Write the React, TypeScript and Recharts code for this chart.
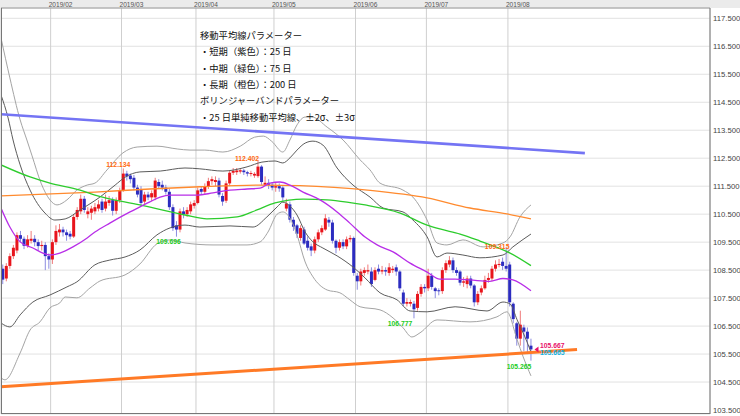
import React from 'react';
import {
  ComposedChart,
  Bar,
  Line,
  XAxis,
  YAxis,
  CartesianGrid,
  ReferenceLine,
  ReferenceDot,
} from 'recharts';

// daily candles from 2019/01/14, [open, high, low, close]
const candles: [number, number, number, number][] = [
  [108.55, 108.7, 108.0, 108.16], [108.2, 108.75, 108.1, 108.65], [108.65, 109.1, 108.55, 109.0],
  [109.0, 109.4, 108.9, 109.3], [109.2, 109.85, 109.1, 109.75], [109.75, 109.9, 109.5, 109.62],
  [109.62, 109.7, 109.25, 109.37], [109.37, 109.75, 109.3, 109.6], [109.55, 109.9, 109.45, 109.62],
  [109.62, 109.75, 109.35, 109.5], [109.5, 109.6, 109.2, 109.36], [109.36, 109.55, 109.2, 109.4],
  [109.4, 109.5, 108.5, 109.0], [109.0, 109.1, 108.55, 108.88], [108.88, 109.6, 108.72, 109.5],
  [109.5, 110.1, 109.4, 109.9], [109.85, 110.15, 109.7, 109.95], [109.95, 110.05, 109.7, 109.85],
  [109.85, 109.95, 109.55, 109.75], [109.8, 109.9, 109.6, 109.7], [109.7, 110.5, 109.65, 110.4],
  [110.4, 110.75, 110.3, 110.65], [110.6, 111.2, 110.5, 111.05], [111.05, 111.15, 110.55, 110.65],
  [110.5, 110.75, 110.35, 110.6], [110.55, 110.8, 110.3, 110.7], [110.6, 110.9, 110.5, 110.75],
  [110.7, 111.0, 110.6, 110.85], [110.95, 111.05, 110.55, 110.65], [110.7, 111.2, 110.6, 110.95],
  [110.9, 111.15, 110.8, 111.0], [111.0, 111.1, 110.45, 110.62], [110.62, 111.1, 110.5, 111.0],
  [111.0, 111.45, 110.9, 111.35], [111.35, 112.134, 111.3, 111.95], [111.95, 112.05, 111.7, 111.85],
  [111.88, 111.95, 111.6, 111.75], [111.8, 111.9, 111.35, 111.45], [111.45, 111.55, 111.1, 111.2],
  [111.4, 111.5, 110.8, 110.9], [110.95, 111.3, 110.85, 111.2], [111.2, 111.3, 111.0, 111.1],
  [111.1, 111.35, 110.95, 111.25], [111.1, 111.8, 111.0, 111.7], [111.65, 111.75, 111.4, 111.5],
  [111.55, 111.7, 111.35, 111.45], [111.45, 111.55, 111.2, 111.3], [111.3, 111.4, 110.65, 110.75],
  [110.75, 110.85, 109.9, 110.0], [110.1, 110.25, 109.696, 109.95], [109.95, 110.7, 109.85, 110.6],
  [110.6, 110.75, 110.35, 110.5], [110.5, 110.75, 110.4, 110.65], [110.6, 110.95, 110.5, 110.85],
  [110.8, 111.0, 110.7, 110.9], [110.9, 111.45, 110.85, 111.35], [111.4, 111.5, 111.2, 111.3],
  [111.3, 111.6, 111.2, 111.5], [111.5, 111.8, 111.4, 111.68], [111.68, 111.85, 111.55, 111.75],
  [111.65, 111.85, 111.5, 111.72], [111.7, 111.8, 111.1, 111.2], [111.15, 111.25, 110.8, 110.95],
  [110.98, 111.7, 110.9, 111.6], [111.6, 112.05, 111.5, 111.98], [111.98, 112.15, 111.9, 112.05],
  [112.0, 112.15, 111.9, 112.06], [112.02, 112.15, 111.95, 112.07], [112.06, 112.12, 111.9, 112.0],
  [112.0, 112.05, 111.85, 111.95], [111.94, 112.05, 111.85, 111.97], [111.88, 112.0, 111.8, 111.94],
  [111.86, 112.402, 111.8, 112.2], [112.2, 112.25, 111.55, 111.65], [111.55, 111.85, 111.5, 111.62],
  [111.62, 111.75, 111.4, 111.55], [111.55, 111.65, 111.35, 111.45], [111.45, 111.65, 111.3, 111.5],
  [111.5, 111.6, 111.3, 111.42], [111.45, 111.5, 110.95, 111.1], [110.7, 111.05, 110.6, 110.88],
  [110.85, 110.95, 110.2, 110.3], [110.3, 110.4, 109.9, 110.05], [110.1, 110.15, 109.65, 109.8],
  [109.65, 110.1, 109.55, 110.0], [109.95, 110.05, 109.4, 109.45], [109.55, 109.7, 109.2, 109.3],
  [109.35, 109.45, 109.0, 109.2], [109.2, 109.7, 109.1, 109.6], [109.6, 109.95, 109.5, 109.85],
  [109.85, 110.1, 109.75, 110.0], [109.95, 110.5, 109.9, 110.35], [110.3, 110.4, 110.05, 110.2],
  [110.2, 110.3, 109.45, 109.55], [109.55, 109.6, 109.1, 109.3], [109.3, 109.6, 109.2, 109.5],
  [109.5, 109.6, 109.25, 109.35], [109.35, 109.7, 109.25, 109.6], [109.6, 109.75, 109.5, 109.65],
  [109.65, 109.7, 108.3, 108.4], [108.3, 108.4, 107.8, 108.1], [108.1, 108.55, 107.95, 108.45],
  [108.4, 108.6, 108.3, 108.5], [108.45, 108.7, 108.35, 108.5], [108.45, 108.6, 107.9, 108.0],
  [108.15, 108.6, 108.1, 108.5], [108.55, 108.7, 108.35, 108.45], [108.45, 108.65, 108.35, 108.5],
  [108.5, 108.6, 108.3, 108.45], [108.4, 108.75, 108.3, 108.6], [108.5, 108.65, 108.4, 108.55],
  [108.6, 108.7, 108.3, 108.45], [108.45, 108.5, 107.75, 107.85], [107.7, 107.8, 107.2, 107.3],
  [107.3, 107.5, 107.2, 107.36], [107.3, 107.45, 107.2, 107.36], [107.3, 107.4, 106.777, 107.1],
  [107.15, 107.75, 107.05, 107.65], [107.65, 108.0, 107.55, 107.9], [107.9, 108.0, 107.7, 107.85],
  [107.85, 108.55, 107.75, 108.3], [108.3, 108.4, 107.8, 107.9], [107.85, 107.9, 107.5, 107.75],
  [107.78, 107.85, 107.6, 107.75], [107.75, 108.6, 107.65, 108.5], [108.5, 108.85, 108.4, 108.75],
  [108.7, 109.0, 108.6, 108.85], [108.85, 108.95, 108.4, 108.5], [108.5, 108.6, 108.3, 108.4],
  [108.45, 108.5, 107.95, 108.05], [108.05, 108.25, 107.9, 108.1], [108.0, 108.3, 107.85, 108.2],
  [108.2, 108.3, 107.85, 107.95], [107.95, 108.0, 107.2, 107.35], [107.35, 107.75, 107.25, 107.65],
  [107.7, 107.95, 107.6, 107.85], [107.85, 108.3, 107.8, 108.15], [108.15, 108.4, 108.05, 108.22],
  [108.2, 108.65, 108.1, 108.55], [108.55, 108.85, 108.45, 108.7], [108.7, 108.9, 108.6, 108.72],
  [108.8, 108.95, 108.5, 108.65], [108.65, 109.315, 108.45, 108.55], [108.7, 108.8, 107.2, 107.35],
  [107.3, 107.35, 106.6, 106.75], [106.6, 106.65, 105.8, 106.05], [106.05, 107.05, 105.8, 106.55],
  [106.45, 106.55, 105.6, 106.3], [106.3, 106.45, 105.5, 106.05], [105.8, 106.05, 105.265, 105.667],
];

// [day position, value]
const ma25: [number, number][] = [
  [0, 110.72], [2.5, 110.04], [5.4, 109.51], [9, 109.29], [11.8, 109.11], [13.8, 109.04],
  [16.6, 109.11], [20.3, 109.33], [24.3, 109.65], [26.5, 109.86], [30.7, 110.18], [36.4, 110.58],
  [39.2, 110.76], [42, 110.94], [44.9, 111.11], [47.7, 111.18], [51.9, 111.18], [55.3, 111.18],
  [59.8, 111.26], [64.6, 111.36], [69.4, 111.4], [73.1, 111.43], [75.9, 111.61], [78.7, 111.65],
  [81.5, 111.54], [85.2, 111.29], [90, 111.01], [94.8, 110.58], [98.4, 110.18], [102.7, 109.68],
  [106.1, 109.4], [110.6, 109.15], [115.4, 108.75], [120.2, 108.43], [123.8, 108.18],
  [128.1, 108.18], [132.3, 108.15], [137.9, 108.1], [141.6, 108.2], [144.4, 108.15], [149.5, 107.76],
];
const ma75: [number, number][] = [
  [0, 112.26], [8.2, 111.83], [13.8, 111.61], [22.3, 111.36], [26.5, 111.18], [39.2, 110.83],
  [51.9, 110.47], [58.1, 110.33], [66.6, 110.4], [72.2, 110.65], [77.3, 110.9], [85.2, 111.04],
  [92, 111.01], [97.6, 110.93], [102.7, 110.83], [112.6, 110.54], [120.2, 110.11], [123.8, 109.97],
  [129.5, 109.79], [135.1, 109.54], [143.6, 109.11], [149.5, 108.66],
];
const ma200: [number, number][] = [
  [0, 111.15], [26.5, 111.29], [42, 111.4], [56.1, 111.48], [73.1, 111.54], [84.3, 111.52],
  [104.1, 111.35], [120.2, 111.08], [132.3, 110.72], [142.7, 110.51], [149.5, 110.33],
];
const bbUp3: [number, number][] = [
  [0, 116.8], [2.5, 115.37], [5.4, 113.87], [7.3, 113.15], [8.7, 112.61], [11.3, 111.61],
  [13.8, 111.01], [15.8, 110.83], [18.6, 111.01], [21.4, 111.36], [24.3, 111.54], [26.5, 111.61],
  [29.9, 112.08], [34.4, 112.69], [38.4, 112.9], [44, 112.93], [49.7, 112.83], [53.3, 112.79],
  [57.5, 112.79], [62.6, 112.72], [67.5, 112.93], [71.5, 113.25], [74, 113.29], [76.4, 113.1],
  [79.5, 112.72], [81.5, 113.15], [83.5, 113.69], [85.8, 113.97], [87.7, 113.97], [92, 113.61],
  [96.5, 113.15], [101.3, 112.44], [104.1, 112.08], [106.9, 111.61], [113.4, 111.36],
  [116.2, 111.11], [120.2, 110.29], [123, 109.47], [125.8, 109.4], [130.3, 109.58], [136, 109.33],
  [141.6, 109.47], [143.6, 109.69], [146.4, 110.4], [149.5, 110.83],
];
const bbUp2: [number, number][] = [
  [0, 114.76], [2, 113.94], [3.4, 113.15], [5.4, 112.26], [8.2, 111.36], [12.4, 110.54],
  [15.2, 110.29], [18.1, 110.33], [22.3, 110.65], [27.9, 111.11], [32.2, 111.54], [35, 111.82],
  [39.2, 112.01], [44.9, 112.04], [51.9, 112.15], [56.1, 112.12], [62.6, 112.04], [69.4, 112.19],
  [73.6, 112.36], [77.3, 112.4], [79.5, 112.33], [81.5, 112.51], [83.5, 112.79], [85.8, 113.04],
  [88, 113.11], [90.8, 112.97], [94.8, 112.15], [99.3, 111.54], [104.1, 111.11], [107.8, 110.72],
  [113.4, 110.58], [116.2, 110.29], [120.2, 109.69], [123, 108.97], [125.8, 109.11],
  [130.3, 109.04], [135.1, 108.94], [141.6, 109.04], [144.4, 109.33], [149.5, 109.79],
];
const bbLow2: [number, number][] = [
  [0, 106.61], [2.5, 106.47], [5.4, 106.9], [9, 107.36], [13.8, 107.61], [18.6, 107.9],
  [21.4, 108.08], [26.5, 108.69], [30.7, 108.86], [35, 108.97], [39.2, 109.22], [44, 109.76],
  [47.7, 110.01], [51.9, 110.11], [56.1, 110.04], [64.6, 110.08], [71.1, 110.04], [75, 110.4],
  [77.9, 110.76], [79.5, 110.93], [81.5, 110.79], [83.5, 110.47], [85.8, 109.86], [88, 109.51],
  [90.8, 109.29], [94.8, 109.01], [99.3, 108.61], [102.7, 108.22], [106.9, 107.69],
  [111.7, 107.44], [115.4, 107.04], [120.2, 107.01], [128.1, 107.19], [137.1, 107.04],
  [141.6, 107.36], [143.6, 107.29], [145.6, 106.72], [148.4, 105.93], [149.5, 105.57],
];
const bbLow3: [number, number][] = [
  [0, 104.65], [1.1, 104.58], [5.4, 105.54], [8.2, 106.36], [11, 106.65], [13.8, 107.15],
  [16.6, 107.33], [18.1, 107.54], [21.4, 107.51], [25.1, 107.86], [27.9, 108.11], [35, 108.33],
  [39.2, 108.72], [44, 109.44], [47.7, 109.58], [51.9, 109.47], [59.8, 109.4], [69.4, 109.4],
  [73.1, 109.51], [75.3, 109.86], [77.9, 110.5], [79.5, 110.58], [81.5, 110.36], [83.5, 109.76],
  [85.8, 108.79], [88, 108.26], [92, 107.79], [95.6, 107.69], [98.4, 107.44], [101.3, 107.19],
  [106.9, 107.08], [110.6, 106.79], [113.4, 106.44], [115.9, 106.11], [118.2, 106.26],
  [123, 106.72], [132.3, 106.65], [139.9, 106.83], [142.7, 107.01], [145.6, 106.01],
  [147.3, 105.4], [149.5, 104.72],
];

// trend lines: [start pos, start value, end pos, end value]
const resistance = [0, 114.07, 164.7, 112.68];
const support = [0, 104.33, 162.5, 105.66];

const monthTicks = [14, 34, 55, 77, 100, 120, 143];
const monthLabels = ['2019/02', '2019/03', '2019/04', '2019/05', '2019/06', '2019/07', '2019/08'];
const priceTicks = [
  103.5, 104, 104.5, 105, 105.5, 106, 106.5, 107, 107.5, 108, 108.5, 109, 109.5, 110, 110.5,
  111, 111.5, 112, 112.5, 113, 113.5, 114, 114.5, 115, 115.5, 116, 116.5, 117, 117.5,
];
const quote = [105.667, 105.665];

const notes = [
  '移動平均線パラメーター',
  '・短期（紫色）：25 日',
  '・中期（緑色）：75 日',
  '・長期（橙色）：200 日',
  'ボリンジャーバンドパラメーター',
  '・25 日単純移動平均線、±2σ、±3σ',
];

const candleData = candles.map((c, i) => ({ u: i + 0.5, range: [c[2], c[1]], o: c[0], c: c[3] }));
const pts = (arr: [number, number][]) => arr.map(([u, v]) => ({ u, v }));

function Candle(props: any) {
  const { x, y, width, height, payload } = props;
  if (!payload) return null;
  const [low, high] = payload.range;
  const top = Math.min(y, y + height);
  const h = Math.abs(height);
  const k = high > low ? h / (high - low) : 0;
  const cx = x + width / 2;
  const yo = top + (high - payload.o) * k;
  const yc = top + (high - payload.c) * k;
  const up = payload.c >= payload.o;
  return (
    <g>
      <line x1={cx} x2={cx} y1={top} y2={top + h} stroke={up ? '#f07a7a' : '#8c8ce0'} strokeWidth={1} />
      <rect
        x={cx - 1.5}
        width={3}
        y={Math.min(yo, yc)}
        height={Math.max(1, Math.abs(yc - yo))}
        fill={up ? '#e8141c' : '#2c2cc0'}
      />
    </g>
  );
}

const labelText = (dx: number, dy: number, color: string, text: string, anchor = 'middle') =>
  (p: any) => (
    <text
      x={p.cx + dx}
      y={p.cy + dy}
      fill={color}
      fontSize={6.8}
      fontWeight="bold"
      textAnchor={anchor}
    >
      {text}
    </text>
  );

export default function App() {
  const bandLine = (data: [number, number][], color: string) => (
    <Line
      data={pts(data)}
      dataKey="v"
      type="monotone"
      stroke={color}
      strokeWidth={1}
      dot={false}
      isAnimationActive={false}
    />
  );
  return (
    <div
      style={{
        position: 'absolute',
        left: 0,
        top: 0,
        width: 740,
        height: 416,
        background: '#fff',
        fontFamily: "'Liberation Sans', Arial, sans-serif",
      }}
    >
      <div style={{ position: 'absolute', left: 0, top: 0, width: 740, height: 8, background: '#ebebeb' }} />
      <ComposedChart
        width={740}
        height={416}
        data={candleData}
        margin={{ top: 0, right: 0, bottom: 2, left: 1 }}
        style={{ position: 'absolute', left: 0, top: 0 }}
      >
        <CartesianGrid horizontal vertical={false} stroke="#e2e2e2" />
        <CartesianGrid horizontal={false} vertical stroke="#cfcfcf" />
        <XAxis
          dataKey="u"
          type="number"
          orientation="top"
          domain={[0, 200]}
          allowDataOverflow
          ticks={monthTicks}
          height={8}
          tickLine={false}
          axisLine={{ stroke: '#9a9a9a' }}
          tick={(p: any) => (
            <text x={p.x - 2} y={6.7} fontSize={6.6} fill="#555" textAnchor="start">
              {monthLabels[monthTicks.indexOf(p.payload.value)]}
            </text>
          )}
        />
        <YAxis
          orientation="right"
          type="number"
          domain={[103.358, 117.868]}
          allowDataOverflow
          ticks={priceTicks}
          width={30}
          tickLine={false}
          tickSize={0}
          tickMargin={3}
          axisLine={{ stroke: '#7a7a7a' }}
          tick={{ fontSize: 7.7, fill: '#444' }}
          tickFormatter={(v: number) => v.toFixed(3)}
        />
        {bandLine(bbUp3, '#a4a4a4')}
        {bandLine(bbLow3, '#a4a4a4')}
        {bandLine(bbUp2, '#5c5c5c')}
        {bandLine(bbLow2, '#5c5c5c')}
        <Line data={pts(ma200)} dataKey="v" type="monotone" stroke="#ff8a2e" strokeWidth={1.3} dot={false} isAnimationActive={false} />
        <Line data={pts(ma75)} dataKey="v" type="monotone" stroke="#2dcc2d" strokeWidth={1.3} dot={false} isAnimationActive={false} />
        <Line data={pts(ma25)} dataKey="v" type="monotone" stroke="#b82ee8" strokeWidth={1.3} dot={false} isAnimationActive={false} />
        <Bar dataKey="range" barSize={3} shape={Candle} isAnimationActive={false} />
        <ReferenceDot x={150.5} y={quote[1]} r={0} ifOverflow="visible" shape={labelText(5.5, 6, '#10b0e0', quote[1].toFixed(3), 'start')} />
        <ReferenceLine
          segment={[{ x: resistance[0], y: resistance[1] }, { x: resistance[2], y: resistance[3] }]}
          stroke="#7474f4"
          strokeWidth={2.6}
          ifOverflow="visible"
        />
        <ReferenceLine
          segment={[{ x: support[0], y: support[1] }, { x: support[2], y: support[3] }]}
          stroke="#ff7a26"
          strokeWidth={3}
          ifOverflow="visible"
        />
        <ReferenceDot x={34.5} y={candles[34][1]} r={0} ifOverflow="visible" shape={labelText(-5, -1, '#ff6a10', candles[34][1].toFixed(3))} />
        <ReferenceDot x={72.5} y={candles[72][1]} r={0} ifOverflow="visible" shape={labelText(-11, 0, '#ff6a10', candles[72][1].toFixed(3))} />
        <ReferenceDot x={142.5} y={candles[142][1]} r={0} ifOverflow="visible" shape={labelText(-9, 1.5, '#ff6a10', candles[142][1].toFixed(3))} />
        <ReferenceDot x={49.5} y={candles[49][2]} r={0} ifOverflow="visible" shape={labelText(-8, 7, '#22cc22', candles[49][2].toFixed(3))} />
        <ReferenceDot x={116.5} y={candles[116][2]} r={0} ifOverflow="visible" shape={labelText(-14, 7.5, '#22cc22', candles[116][2].toFixed(3))} />
        <ReferenceDot x={149.5} y={candles[149][2]} r={0} ifOverflow="visible" shape={labelText(-12, 8, '#22cc22', candles[149][2].toFixed(3))} />
        <ReferenceDot
          x={150.5}
          y={quote[0]}
          r={0}
          ifOverflow="visible"
          shape={(p: any) => (
            <g>
              <polygon points={`${p.cx},${p.cy} ${p.cx + 4},${p.cy - 3} ${p.cx + 4},${p.cy + 3}`} fill="#e8106a" />
              <text x={p.cx + 5.5} y={p.cy - 1} fill="#e8106a" fontSize={6.8} fontWeight="bold">
                {quote[0].toFixed(3)}
              </text>
            </g>
          )}
        />
      </ComposedChart>
      <div
        style={{
          position: 'absolute',
          left: 1,
          top: 8,
          width: 708,
          height: 405,
          borderLeft: '1px solid #777',
          borderBottom: '1px solid #777',
          pointerEvents: 'none',
        }}
      />
      {notes.map((t, i) => (
        <div
          key={t}
          style={{
            position: 'absolute',
            left: 200,
            top: 29 + i * 16.35,
            height: 12,
            lineHeight: '12px',
            fontSize: 9.3,
            color: '#111',
            whiteSpace: 'nowrap',
            fontFamily: "'Noto Sans CJK JP', sans-serif",
          }}
        >
          {t}
        </div>
      ))}
    </div>
  );
}
